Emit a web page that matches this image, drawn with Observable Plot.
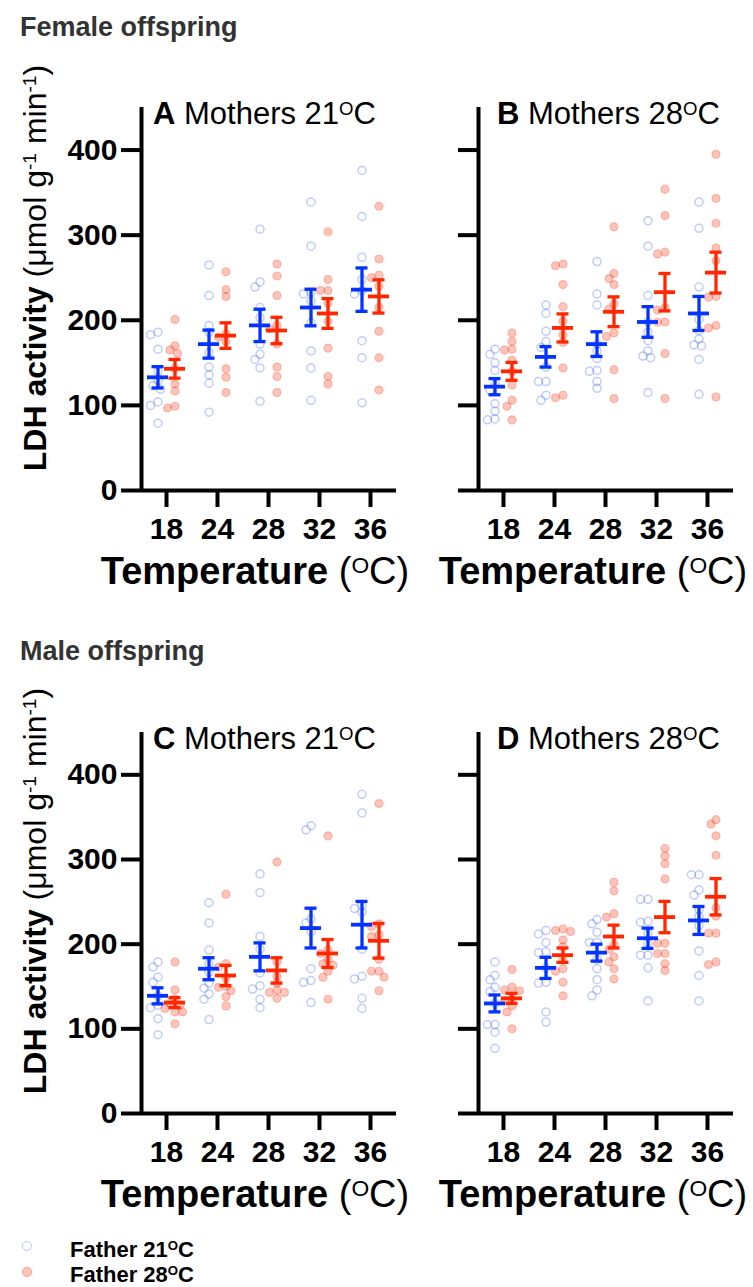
<!DOCTYPE html>
<html><head><meta charset="utf-8">
<script src="https://cdn.jsdelivr.net/npm/d3@7"></script>
<script src="https://cdn.jsdelivr.net/npm/@observablehq/plot@0.6"></script>
<style>
body{margin:0;background:#fff;}
#root{position:relative;width:753px;height:1287px;font-family:"Liberation Sans",Arial,sans-serif;overflow:hidden;background:#fff;}
.abs{position:absolute;white-space:nowrap;line-height:1;color:#000;}
.sup{font-size:0.6em;vertical-align:0.5em;line-height:0;}
.pan{position:absolute;}
.pan svg{max-width:none;overflow:visible;}
</style></head><body><div id="root"></div>
<script>
// ---------------- data ----------------
const temps = [18, 24, 28, 32, 36];
const yTicks = [0, 100, 200, 300, 400];
const seriesNames = ["Father 21", "Father 28"];

// Female offspring, mothers 21 (A)
const A_f21 = [
  [186,183,166,140,129,123,119,104,100,79],
  [265,229,194,186,162,145,136,126,92],
  [307,245,239,215,203,172,160,154,144,105],
  [339,287,233,231,223,197,164,144,106],
  [376,322,274,248,235,231,176,156,103]
];
const A_f28 = [
  [201,170,165,161,143,125,117,99,97],
  [257,236,228,184,180,175,143,133,115],
  [266,252,229,194,190,172,145,134,115],
  [304,248,235,235,220,199,167,134,125],
  [334,272,253,250,240,215,187,156,118]
];
const A_mean21 = [133,172,194,215,236];
const A_sem21  = [12.5,16.5,19,21.5,25.5];
const A_mean28 = [143,182,188,208,228];
const A_sem28  = [11,15,15.5,17.5,19.5];

// Female offspring, mothers 28 (B)
const B_f21 = [
  [166,160,150,141,125,118,102,93,84,83],
  [218,208,187,175,168,145,128,128,112,106],
  [269,231,218,172,164,155,141,140,128,120],
  [317,287,229,198,186,176,164,158,156,115],
  [339,308,239,201,188,178,171,170,154,113]
];
const B_f28 = [
  [185,175,166,165,153,140,124,106,99,83],
  [266,264,242,216,199,183,174,144,112,109],
  [310,255,249,242,219,213,185,181,142,108],
  [354,323,280,278,215,212,198,198,161,108],
  [395,343,314,285,270,228,227,194,191,110]
];
const B_mean21 = [122,157,172,198,208];
const B_sem21  = [9.5,12,14.5,18,20];
const B_mean28 = [140,191,210,233,256];
const B_sem28  = [10.5,16.5,17.5,22,24];

// Male offspring, mothers 21 (C)
const C_f21 = [
  [179,173,161,155,139,128,125,112,93],
  [249,225,193,177,167,154,148,141,135,111],
  [283,261,209,194,166,151,147,135,125],
  [340,335,230,225,215,171,157,155,131],
  [377,355,246,242,238,194,162,159,136,124]
];
const C_f28 = [
  [179,146,135,130,128,124,120,120,106],
  [259,177,173,160,150,149,145,138,127],
  [297,179,162,154,146,143,143,136],
  [328,193,189,182,177,175,168,161,135],
  [366,224,221,211,209,182,168,168,161,145]
];
const C_mean21 = [139,171,185,219,223];
const C_sem21  = [9.5,13,16.5,23.5,27.5];
const C_mean28 = [131,163,169,189,204];
const C_sem28  = [6,12,15,16.5,20.5];

// Male offspring, mothers 28 (D)
const D_f21 = [
  [179,163,158,149,144,130,105,105,96,77],
  [216,212,202,191,190,172,155,154,120,108],
  [229,224,214,202,202,182,171,158,146,139],
  [253,253,227,226,213,201,187,187,172,133],
  [282,282,264,258,241,233,222,192,163,133]
];
const D_f28 = [
  [170,149,146,145,136,133,127,120,100],
  [218,216,215,205,197,181,171,168,155,139],
  [273,263,236,232,200,194,185,179,171,159],
  [313,304,295,277,201,201,189,189,177,169],
  [347,342,328,305,243,233,213,213,179,176]
];
const D_mean21 = [130,172,190,207,228];
const D_sem21  = [10,12.5,10,12,16.5];
const D_mean28 = [136,187,209,232,256];
const D_sem28  = [6,8.5,13.5,18.5,21.5];

// ---------------- styling ----------------
const BLUE = "#0433ff", RED = "#ff2600";
const FONT = '"Liberation Sans", Arial, sans-serif';
const STEP = 51;           // px per temperature category
const GROUP_OFF = 8.5;     // px offset of each father group from category centre

function swarm(vals, pxPerUnit) {
  const order = vals.map((v, i) => i).sort((a, b) => vals[b] - vals[a]);
  const placed = [];
  const off = new Array(vals.length).fill(0);
  const cands = [0, -2.5, 2.5, -5, 5, -7.5, 7.5, -10, 10];
  for (const i of order) {
    const y = vals[i] * pxPerUnit;
    let c = cands.find(c => placed.every(p => (p.x - c) ** 2 + (p.y - y) ** 2 >= 42));
    if (c === undefined) c = 0;
    off[i] = c;
    placed.push({x: c, y});
  }
  return off;
}

function panel(f21, f28, m21, s21, m28, s28, opts) {
  const plotH = opts.plotH;
  const ppu = plotH / 450;
  const pts21 = [], pts28 = [];
  f21.forEach((vals, i) => {
    const off = swarm(vals, ppu);
    vals.forEach((v, k) => pts21.push({x: i + (-GROUP_OFF + off[k]) / STEP, y: v}));
  });
  f28.forEach((vals, i) => {
    const off = swarm(vals, ppu);
    vals.forEach((v, k) => pts28.push({x: i + (GROUP_OFF + off[k]) / STEP, y: v}));
  });
  const st21 = m21.map((m, i) => ({c: i - GROUP_OFF / STEP, m, e: s21[i]}));
  const st28 = m28.map((m, i) => ({c: i + GROUP_OFF / STEP, m, e: s28[i]}));
  const errMarks = (st, color) => [
    Plot.ruleX(st, {x: "c", y1: d => d.m - d.e, y2: d => d.m + d.e, stroke: color, strokeWidth: 3.3}),
    Plot.ruleY(st, {y: d => d.m + d.e, x1: d => d.c - 6 / STEP, x2: d => d.c + 6 / STEP, stroke: color, strokeWidth: 3.3}),
    Plot.ruleY(st, {y: d => d.m - d.e, x1: d => d.c - 6 / STEP, x2: d => d.c + 6 / STEP, stroke: color, strokeWidth: 3.3}),
    Plot.ruleY(st, {y: "m", x1: d => d.c - 10.5 / STEP, x2: d => d.c + 10.5 / STEP, stroke: color, strokeWidth: 3.8})
  ];
  const xmin = -25 / STEP, xmax = 4 + 26 / STEP;
  return Plot.plot({
    width: opts.width, height: 17 + plotH + 60,
    marginLeft: opts.ml, marginRight: opts.mr, marginTop: 17, marginBottom: 60,
    x: {domain: [xmin, xmax]},
    y: {domain: [0, 450]},
    style: {fontFamily: FONT, fontSize: "30px", fontWeight: "bold", color: "#000", background: "transparent", overflow: "visible"},
    marks: [
      Plot.axisY({ticks: yTicks, tickSize: 20, tickPadding: 4, strokeWidth: 4, label: null,
                  tickFormat: opts.yLabels ? (d => d) : (() => "")}),
      Plot.axisX({ticks: [0, 1, 2, 3, 4], tickSize: 17, tickPadding: 10, strokeWidth: 4, label: null,
                  tickFormat: i => temps[i]}),
      Plot.ruleX([xmin], {y1: 0, y2: 450, strokeWidth: 4}),
      Plot.ruleY([0], {strokeWidth: 4}),
      Plot.dot(pts21, {x: "x", y: "y", r: 4, fill: "none", stroke: BLUE, strokeOpacity: 0.25, strokeWidth: 1.5}),
      Plot.dot(pts28, {x: "x", y: "y", r: 4, fill: RED, fillOpacity: 0.27, stroke: RED, strokeOpacity: 0.25, strokeWidth: 1.2}),
      ...errMarks(st21, BLUE),
      ...errMarks(st28, RED)
    ]
  });
}

const root = document.getElementById("root");
function place(el, left, top, w) {
  const d = document.createElement("div");
  d.className = "pan";
  d.style.left = left + "px"; d.style.top = top + "px"; d.style.width = w + "px";
  d.appendChild(el);
  root.appendChild(d);
}
place(panel(A_f21, A_f28, A_mean21, A_sem21, A_mean28, A_sem28, {width: 398, ml: 141, mr: 2, plotH: 383, yLabels: true}), 0, 90, 398);
place(panel(B_f21, B_f28, B_mean21, B_sem21, B_mean28, B_sem28, {width: 355, ml: 80, mr: 20, plotH: 383, yLabels: false}), 398, 90, 355);
place(panel(C_f21, C_f28, C_mean21, C_sem21, C_mean28, C_sem28, {width: 398, ml: 141, mr: 2, plotH: 381, yLabels: true}), 0, 715, 398);
place(panel(D_f21, D_f28, D_mean21, D_sem21, D_mean28, D_sem28, {width: 355, ml: 80, mr: 20, plotH: 381, yLabels: false}), 398, 715, 355);

// ---------------- text ----------------
const deg = '<span class="sup">O</span>C';
function text(html, x, baseline, fs, opts = {}) {
  const d = document.createElement("div");
  d.className = "abs";
  d.innerHTML = html;
  d.style.fontSize = fs + "px";
  d.style.top = (baseline - 0.8465 * fs) + "px";
  d.style.left = x + "px";
  if (opts.center) d.style.transform = "translateX(-50%)";
  if (opts.bold) d.style.fontWeight = "bold";
  if (opts.color) d.style.color = opts.color;
  root.appendChild(d);
  return d;
}
function vtext(html, cx, cy, fs) {
  const d = document.createElement("div");
  d.className = "abs";
  d.innerHTML = html;
  d.style.fontSize = fs + "px";
  d.style.left = cx + "px";
  d.style.top = cy + "px";
  d.style.transform = "translate(-50%,-50%) rotate(-90deg)";
  root.appendChild(d);
}
text("Female offspring", 20, 37, 27, {bold: true, color: "#333"});
text("Male offspring", 20, 661, 27, {bold: true, color: "#333"});

const titles = [["A", "Mothers 21"], ["B", "Mothers 28"], ["C", "Mothers 21"], ["D", "Mothers 28"]];
const tPos = [[153, 124], [497, 124], [153, 749], [497, 749]];
titles.forEach((t, i) => text(`<b>${t[0]}</b> ${t[1]}${deg}`, tPos[i][0], tPos[i][1], 31));

const xPos = [[255, 584], [593, 584], [255, 1207], [593, 1207]];
xPos.forEach(p => text(`<b>Temperature</b> (${deg})`, p[0], p[1], 38, {center: true}));

const ylab = '<b>LDH activity</b> (\u03BCmol g<span class="sup">-1</span> min<span class="sup">-1</span>)';
vtext(ylab, 35, 268, 32);
vtext(ylab, 35, 891, 32);

// legend
function marker(x, y, filled) {
  const d = document.createElement("div");
  d.style.position = "absolute";
  d.style.left = (x - 5) + "px"; d.style.top = (y - 5) + "px";
  d.style.width = "10px"; d.style.height = "10px"; d.style.boxSizing = "border-box";
  d.style.borderRadius = "50%";
  if (filled) { d.style.background = "rgba(255,38,0,0.27)"; d.style.border = "1.2px solid rgba(255,38,0,0.25)"; }
  else { d.style.border = "1.5px solid rgba(4,51,255,0.25)"; }
  root.appendChild(d);
}
marker(27, 1246, false);
marker(27, 1272, true);
text(seriesNames[0] + deg, 70, 1258, 22, {bold: true});
text(seriesNames[1] + deg, 70, 1283, 22, {bold: true});
</script></body></html>
